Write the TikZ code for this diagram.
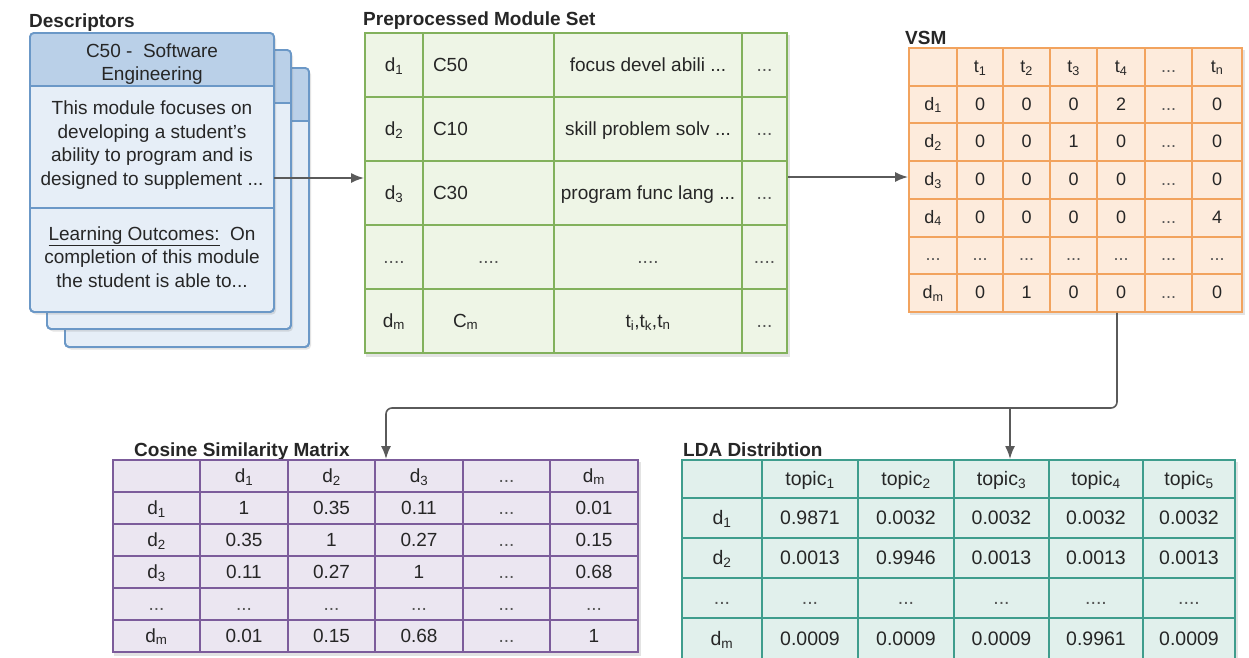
\documentclass[tikz,border=0pt]{standalone}
\usepackage{fontspec}
\setmainfont{Liberation Sans}
\usetikzlibrary{matrix,shadows,arrows.meta,calc}
\definecolor{txtc}{HTML}{262626}
\definecolor{arrc}{HTML}{5A5A5A}
\definecolor{dotc}{HTML}{555555}
\definecolor{pmsline}{HTML}{82B15C}
\definecolor{pmsfill}{HTML}{EEF5E6}
\definecolor{vsmline}{HTML}{F2A35E}
\definecolor{vsmfill}{HTML}{FDEBDC}
\definecolor{cosline}{HTML}{7C5C9B}
\definecolor{cosfill}{HTML}{EBE6F1}
\definecolor{ldaline}{HTML}{3F9D8D}
\definecolor{ldafill}{HTML}{E1F0EC}
\definecolor{cardline}{HTML}{6B98C7}
\definecolor{cardfill}{HTML}{E6EEF7}
\definecolor{cardhdr}{HTML}{BAD0E8}
\begin{document}
\begin{tikzpicture}[x=1pt,y=-1pt,
  ttl/.style={font=\fontsize{19}{22}\selectfont\bfseries, text=txtc, inner sep=0pt, anchor=base west},
  arr/.style={draw=arrc, line width=1.6pt, -{Latex[length=13pt,width=10pt]}},
  tshadow/.style={drop shadow={shadow xshift=2pt,shadow yshift=-2.5pt,opacity=.22}},
  tbl/.style={matrix of nodes, nodes in empty cells, inner sep=0pt, outer sep=0pt,
    column sep=-2pt, row sep=-2pt, matrix anchor=north west, tshadow},
  cellbase/.style={anchor=center, inner sep=0pt, outer sep=0pt, text height=14pt, text depth=2pt, text=txtc},
  card/.style={draw=cardline, line width=1.8pt, fill=cardfill, rounded corners=4pt,
    minimum width=244pt, minimum height=279pt, inner sep=0pt, outer sep=0pt, tshadow},
  cardtxt/.style={align=center, font=\fontsize{19}{23.5}\selectfont, text=txtc, inner sep=0pt},
  dots/.style={text=dotc}
]
\useasboundingbox (0,0) rectangle (1249,657);
\fill[white] (0,0) rectangle (1249,657);

% ---------- Descriptor cards ----------
\foreach \nm/\cx/\cy in {cardc/65/68, cardb/47/50, carda/30/33} {
  \node[card, anchor=north west] (\nm) at (\cx,\cy) {};
  \begin{scope}
    \clip[rounded corners=4pt] (\nm.north west) rectangle (\nm.south east);
    \fill[cardhdr] (\nm.north west) rectangle ($(\nm.north east)+(0,53)$);
  \end{scope}
  \draw[draw=cardline, line width=1.8pt, rounded corners=4pt] (\nm.north west) rectangle (\nm.south east);
  \draw[draw=cardline, line width=1.8pt] ($(\nm.north west)+(0,53)$) -- ($(\nm.north east)+(0,53)$);
}
\draw[draw=cardline, line width=1.8pt] ($(carda.north west)+(0,175)$) -- ($(carda.north east)+(0,175)$);
\node[cardtxt] (hdr) at (152,64) {C50 -\ \ Software\\Engineering};
\node[cardtxt] (body) at (152,145) {This module focuses on\\developing a student's\\ability to program and is\\designed to supplement ...};
\node[cardtxt] (lo) at (152,257) {\underline{Learning Outcomes:}\ \ On\\completion of this module\\the student is able to...};

% ---------- Titles ----------
\node[ttl] (t-desc) at (29,27) {Descriptors};
\node[ttl] (t-pms) at (363,25) {Preprocessed Module Set};
\node[ttl] (t-vsm) at (905,44) {VSM};
\node[ttl] (t-cos) at (134,456) {Cosine Similarity Matrix};
\node[ttl] (t-lda) at (683,456) {LDA Distribtion};

% ---------- Preprocessed Module Set ----------
\matrix[tbl, fill=pmsfill,
  nodes={cellbase, draw=pmsline, line width=2pt, minimum height=64pt, font=\fontsize{19}{22}\selectfont},
  column 1/.style={nodes={minimum width=58pt}},
  column 2/.style={nodes={minimum width=131pt, text width=111pt, inner xsep=10pt, align=left}},
  column 3/.style={nodes={minimum width=188pt}},
  column 4/.style={nodes={minimum width=45pt, dots}}] (pms) at (364,32) {
  d\textsubscript{1} & C50 & focus devel abili ... & ... \\
  d\textsubscript{2} & C10 & skill problem solv ... & ... \\
  d\textsubscript{3} & C30 & program func lang ... & ... \\
  |[dots]| .... & \hspace*{45pt}\textcolor{dotc}{....} & |[dots]| .... & .... \\
  d\textsubscript{m} & \hspace*{20pt}C\textsubscript{m} & t\textsubscript{i},t\textsubscript{k},t\textsubscript{n} & ... \\
};

% ---------- VSM ----------
\matrix[tbl, fill=vsmfill,
  nodes={cellbase, draw=vsmline, line width=2pt, minimum height=37.7pt, text height=13pt, font=\fontsize{18}{21}\selectfont},
  column 1/.style={nodes={minimum width=48pt}},
  column 2/.style={nodes={minimum width=46pt}},
  column 3/.style={nodes={minimum width=47pt}},
  column 4/.style={nodes={minimum width=47pt}},
  column 5/.style={nodes={minimum width=48pt}},
  column 6/.style={nodes={minimum width=47pt, dots}},
  column 7/.style={nodes={minimum width=50pt}},
  row 6/.style={nodes={dots}}] (vsm) at (908,47) {
   & t\textsubscript{1} & t\textsubscript{2} & t\textsubscript{3} & t\textsubscript{4} & ... & t\textsubscript{n} \\
  d\textsubscript{1} & 0 & 0 & 0 & 2 & ... & 0 \\
  d\textsubscript{2} & 0 & 0 & 1 & 0 & ... & 0 \\
  d\textsubscript{3} & 0 & 0 & 0 & 0 & ... & 0 \\
  d\textsubscript{4} & 0 & 0 & 0 & 0 & ... & 4 \\
  ... & ... & ... & ... & ... & ... & ... \\
  d\textsubscript{m} & 0 & 1 & 0 & 0 & ... & 0 \\
};

% ---------- Cosine Similarity Matrix ----------
\matrix[tbl, fill=cosfill,
  nodes={cellbase, draw=cosline, line width=2pt, minimum height=32pt, font=\fontsize{19}{22}\selectfont},
  column 1/.style={nodes={minimum width=87pt}},
  column 2/.style={nodes={minimum width=88pt}},
  column 3/.style={nodes={minimum width=87pt}},
  column 4/.style={nodes={minimum width=88pt}},
  column 5/.style={nodes={minimum width=87pt, dots}},
  column 6/.style={nodes={minimum width=88pt}},
  row 5/.style={nodes={dots}}] (cos) at (112,459) {
   & d\textsubscript{1} & d\textsubscript{2} & d\textsubscript{3} & ... & d\textsubscript{m} \\
  d\textsubscript{1} & 1 & 0.35 & 0.11 & ... & 0.01 \\
  d\textsubscript{2} & 0.35 & 1 & 0.27 & ... & 0.15 \\
  d\textsubscript{3} & 0.11 & 0.27 & 1 & ... & 0.68 \\
  ... & ... & ... & ... & ... & ... \\
  d\textsubscript{m} & 0.01 & 0.15 & 0.68 & ... & 1 \\
};

% ---------- LDA Distribution ----------
\matrix[tbl, fill=ldafill,
  nodes={cellbase, draw=ldaline, line width=2pt, minimum height=40pt, font=\fontsize{19.5}{22}\selectfont},
  column 1/.style={nodes={minimum width=80pt}},
  column 2/.style={nodes={minimum width=96pt}},
  column 3/.style={nodes={minimum width=96pt}},
  column 4/.style={nodes={minimum width=95pt}},
  column 5/.style={nodes={minimum width=94pt}},
  column 6/.style={nodes={minimum width=92pt}},
  row 1/.style={nodes={minimum height=38pt}},
  row 4/.style={nodes={dots}},
  row 5/.style={nodes={minimum height=42pt}}] (lda) at (681,459) {
   & topic\textsubscript{1} & topic\textsubscript{2} & topic\textsubscript{3} & topic\textsubscript{4} & topic\textsubscript{5} \\
  d\textsubscript{1} & 0.9871 & 0.0032 & 0.0032 & 0.0032 & 0.0032 \\
  d\textsubscript{2} & 0.0013 & 0.9946 & 0.0013 & 0.0013 & 0.0013 \\
  ... & ... & ... & ... & .... & .... \\
  d\textsubscript{m} & 0.0009 & 0.0009 & 0.0009 & 0.9961 & 0.0009 \\
};

% ---------- Connectors ----------
\coordinate (ya) at (0,178);
\coordinate (yb) at (0,177);
\draw[arr] (carda.east |- ya) -- (pms.west |- ya);
\draw[arr] (pms.east |- yb) -- (vsm.west |- yb);
\coordinate (vx) at (1117,0);
\coordinate (hy) at (0,408);
\coordinate (cx) at (386,0);
\coordinate (lx) at (1010,0);
\draw[arr, rounded corners=6pt] (vsm.south -| vx) -- (vx |- hy) -- (cx |- hy) -- (cos.north -| cx);
\draw[arr] (lx |- hy) -- (lda.north -| lx);
\end{tikzpicture}
\end{document}
